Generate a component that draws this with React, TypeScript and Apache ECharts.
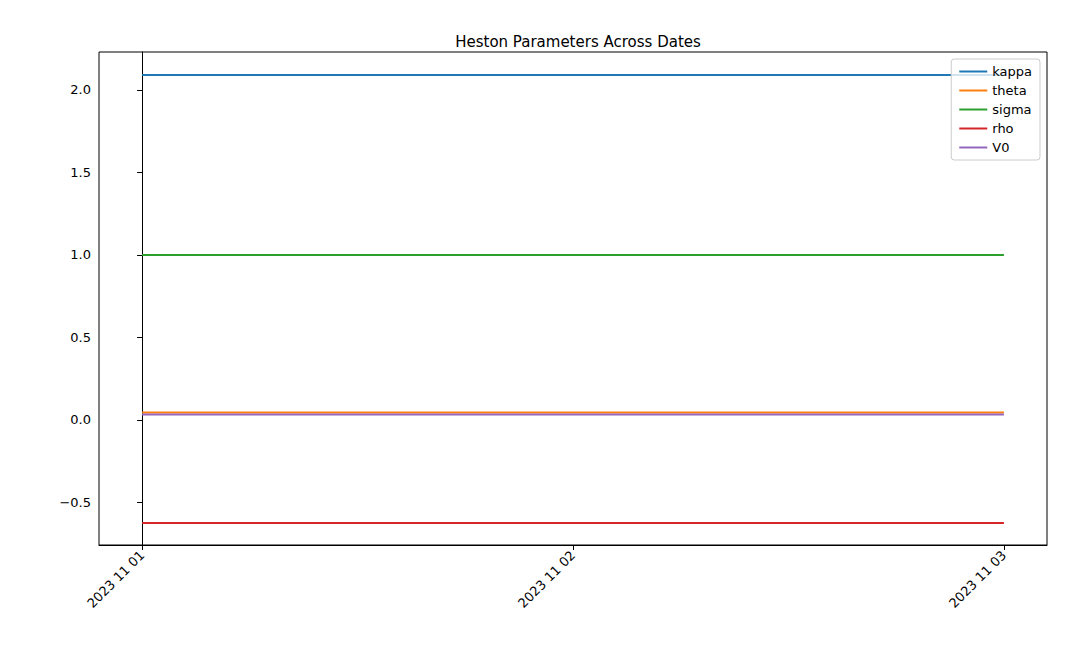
import {useEffect, useRef} from 'react';
import * as echarts from 'echarts';

const dates = ['2023 11 01', '2023 11 02', '2023 11 03'];
const names = ['kappa', 'theta', 'sigma', 'rho', 'V0'];
const colors = ['#1f77b4', '#ff7f0e', '#2ca02c', '#d62728', '#9467bd'];
const kappa = [2.09, 2.09, 2.09];
const theta = [0.045, 0.045, 0.045];
const sigma = [1.0, 1.0, 1.0];
const rho = [-0.624, -0.624, -0.624];
const v0 = [0.033, 0.033, 0.033];
const yTicks = [-0.5, 0, 0.5, 1, 1.5, 2];

export default function App() {
    const ref = useRef<HTMLDivElement | null>(null);

    useEffect(() => {
        if (!ref.current) return;
        const chart = echarts.init(ref.current, null, {renderer: 'svg'});
        const values = [kappa, theta, sigma, rho, v0];
        chart.setOption({
            animation: false,
            textStyle: {fontFamily: 'DejaVu Sans'},
            title: {
                text: 'Heston Parameters Across Dates', left: 573, top: 29, textAlign: 'center',
                textStyle: {fontSize: 15, fontWeight: 'normal', color: '#000'},
            },
            legend: {
                orient: 'vertical', right: 50, top: 59, itemGap: 6, itemWidth: 28, itemHeight: 2,
                icon: 'rect', borderColor: '#ccc', borderWidth: 1, borderRadius: 3, padding: [6, 8],
                backgroundColor: 'rgba(255,255,255,0.8)',
                textStyle: {fontSize: 13, color: '#000'},
                data: names,
            },
            grid: {
                left: 99, right: 43, top: 52, bottom: 127, containLabel: false, outerBoundsMode: 'none',
                show: true, borderColor: '#000', borderWidth: 1,
            },
            xAxis: {
                type: 'value', min: -0.1, max: 2.1,
                axisLine: {onZero: false, lineStyle: {color: '#000'}},
                axisTick: {customValues: [0, 1, 2], length: 5, lineStyle: {color: '#000'}},
                axisLabel: {
                    customValues: [0, 1, 2], rotate: 45, fontSize: 13, color: '#000', margin: 8,
                    formatter: (v: number) => dates[Math.round(v)] ?? '',
                },
                splitLine: {show: false},
            },
            yAxis: {
                type: 'value', min: -0.758, max: 2.23,
                axisLine: {show: true, lineStyle: {color: '#000'}},
                axisTick: {show: true, customValues: yTicks, length: 5, lineStyle: {color: '#000'}},
                axisLabel: {
                    customValues: yTicks, fontSize: 13, color: '#000',
                    formatter: (v: number) => (v < 0 ? '\u2212' : '') + Math.abs(v).toFixed(1),
                },
                splitLine: {show: false},
            },
            series: names.map((n, i) => ({
                name: n, type: 'line', symbol: 'none', color: colors[i],
                lineStyle: {width: 2},
                data: values[i].map((v, j) => [j, v]),
            })),
        });
        return () => chart.dispose();
    }, []);

    return <div ref={ref} style={{position: 'absolute', left: 0, top: 0, width: 1090, height: 672}}/>;
}
